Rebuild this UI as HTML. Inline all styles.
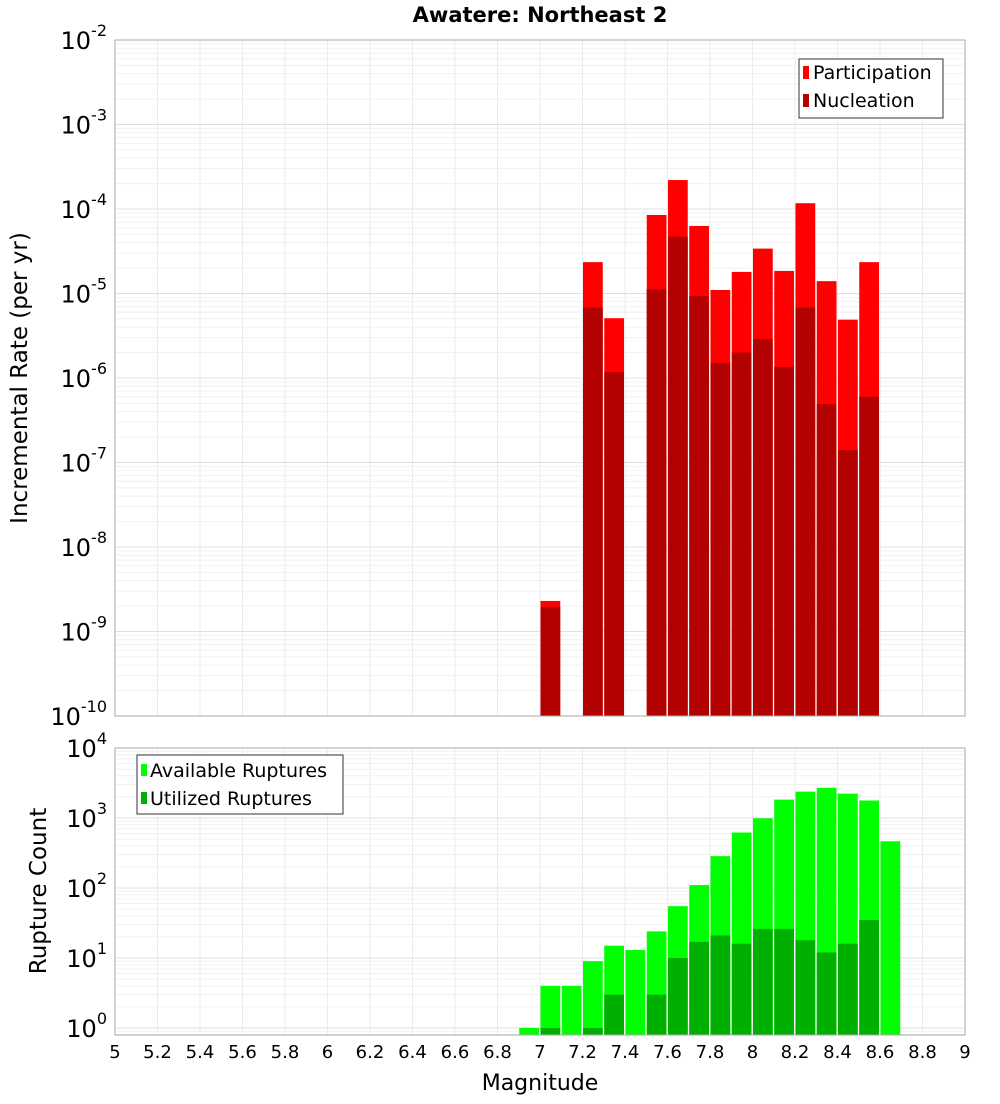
<!DOCTYPE html>
<html><head><meta charset="utf-8"><style>
body{margin:0;background:#fff;font-family:"DejaVu Sans","Liberation Sans",sans-serif}
svg text{font-family:"DejaVu Sans","Liberation Sans",sans-serif}
</style></head><body>
<svg id="c" width="1000" height="1100" xmlns="http://www.w3.org/2000/svg">
<text x="540" y="22" text-anchor="middle" font-size="21" font-weight="bold">Awatere: Northeast 2</text>
<g id="top"></g>
<g id="bot"></g>
<text transform="translate(27,378) rotate(-90)" text-anchor="middle" font-size="23">Incremental Rate (per yr)</text>
<text transform="translate(46,891) rotate(-90)" text-anchor="middle" font-size="23">Rupture Count</text>
<text x="540" y="1090" text-anchor="middle" font-size="22">Magnitude</text>
<g>
<rect x="799" y="59" width="144" height="59" fill="#fff" stroke="#333"/>
<rect x="803" y="66" width="6" height="13" fill="#ff0000"/>
<text x="813" y="79" font-size="19">Participation</text>
<rect x="803" y="94" width="6" height="13" fill="#b30000"/>
<text x="813" y="107" font-size="19">Nucleation</text>
</g>
<g>
<rect x="137" y="755" width="206" height="59" fill="#fff" stroke="#333"/>
<rect x="141" y="764" width="6" height="12" fill="#00ff00"/>
<text x="150" y="777" font-size="19">Available Ruptures</text>
<rect x="141" y="792" width="6" height="12" fill="#00b000"/>
<text x="150" y="805" font-size="19">Utilized Ruptures</text>
</g>
</svg>
<script>
const rateMags=[7.0,7.2,7.3,7.5,7.6,7.7,7.8,7.9,8.0,8.1,8.2,8.3,8.4,8.5];
const participation=[2.3e-9,2.35e-5,5.1e-6,8.5e-5,2.2e-4,6.3e-5,1.1e-5,1.8e-5,3.4e-5,1.85e-5,1.17e-4,1.4e-5,4.9e-6,2.35e-5];
const nucleation=[1.95e-9,6.8e-6,1.17e-6,1.12e-5,4.7e-5,9.3e-6,1.5e-6,2.0e-6,2.9e-6,1.35e-6,6.8e-6,4.9e-7,1.4e-7,6.0e-7];
const countMags=[6.9,7.0,7.1,7.2,7.3,7.4,7.5,7.6,7.7,7.8,7.9,8.0,8.1,8.2,8.3,8.4,8.5,8.6];
const available=[1,4,4,9,15,13,24,55,110,285,620,990,1830,2380,2700,2230,1780,465];
const utilized=[0,1,0,1,3,0,3,10,17,21,16,26,26,18,12,16,35,0];
const xTicks=["5","5.2","5.4","5.6","5.8","6","6.2","6.4","6.6","6.8","7","7.2","7.4","7.6","7.8","8","8.2","8.4","8.6","8.8","9"];
const NS="http://www.w3.org/2000/svg";
const L=115,R=965;
const X=m=>L+(m-5)/4*(R-L);
const T={top:40,bot:716,lo:-10,hi:-2};
const B={top:748,bot:1035,y0:1028,pd:70};
const yT=v=>T.top+(T.hi-Math.log10(v))/(T.hi-T.lo)*(T.bot-T.top);
const yB=v=>B.y0-Math.log10(v)*B.pd;
function mk(p,tag,a){const e=document.createElementNS(NS,tag);for(const k in a)e.setAttribute(k,a[k]);p.appendChild(e);return e;}
const gTop=document.getElementById('top'),gBot=document.getElementById('bot');
function frame(g,y1,y2){
 mk(g,'rect',{x:L,y:y1,width:R-L,height:y2-y1,fill:'#fff'});
 for(let i=0;i<=20;i++){const x=X(5+i*0.2);mk(g,'line',{x1:x,x2:x,y1:y1,y2:y2,stroke:'#ebebeb'});}
}
frame(gTop,T.top,T.bot);
for(let d=T.lo;d<T.hi;d++)for(let k=1;k<10;k++){const y=yT(k*Math.pow(10,d));mk(gTop,'line',{x1:L,x2:R,y1:y,y2:y,stroke:k==1?'#e0e0e0':'#f0f0f0'});}
frame(gBot,B.top,B.bot);
for(let d=-1;d<4;d++)for(let k=1;k<10;k++){const y=yB(k*Math.pow(10,d));if(y<B.top||y>B.bot)continue;mk(gBot,'line',{x1:L,x2:R,y1:y,y2:y,stroke:k==1?'#e0e0e0':'#f0f0f0'});}
function bar(g,m,y,yb,fill,name){const r=mk(g,'rect',{x:X(m)+0.5,y:y,width:X(m+0.1)-X(m)-1.5,height:Math.max(0,yb-y),fill:fill});

}
rateMags.forEach((m,i)=>{bar(gTop,m,yT(participation[i]),T.bot,'#ff0000','participation-bar');bar(gTop,m,yT(nucleation[i]),T.bot,'#b30000','nucleation-bar');});
countMags.forEach((m,i)=>{bar(gBot,m,yB(available[i]),B.bot,'#00ff00','available-bar');if(utilized[i]>0)bar(gBot,m,yB(utilized[i]),B.bot,'#00b000','utilized-bar');});
mk(gTop,'rect',{x:L,y:T.top,width:R-L,height:T.bot-T.top,fill:'none',stroke:'#aaa'});
mk(gBot,'rect',{x:L,y:B.top,width:R-L,height:B.bot-B.top,fill:'none',stroke:'#aaa'});
function ylab(g,y,e,name){const t=mk(g,'text',{x:107,y:y+9,'text-anchor':'end','font-size':24});


t.textContent='10';const s=mk(t,'tspan',{dy:-13,'font-size':16});s.textContent=e;}
for(let d=T.lo;d<=T.hi;d++)ylab(gTop,yT(Math.pow(10,d)),String(d),'y-tick-rate');
for(let d=0;d<=4;d++)ylab(gBot,yB(Math.pow(10,d)),String(d),'y-tick-count');
xTicks.forEach(s=>{const t=mk(gBot,'text',{x:X(parseFloat(s)),y:1058,'text-anchor':'middle','font-size':18});


t.textContent=s;});
</script>
</body></html>
